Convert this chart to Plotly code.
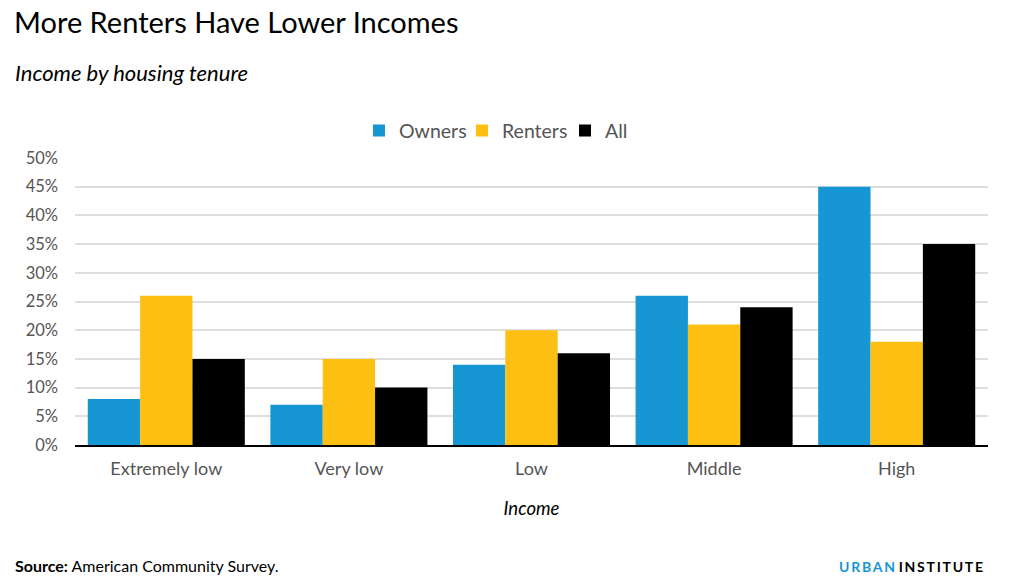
import plotly.graph_objects as go

categories = ["Extremely low", "Very low", "Low", "Middle", "High"]
owners = [8, 7, 14, 26, 45]
renters = [26, 15, 20, 21, 18]
all_vals = [15, 10, 16, 24, 35]
tick_vals = [0, 5, 10, 15, 20, 25, 30, 35, 40, 45, 50]
tick_text = [f"{v}%" for v in tick_vals]

FONT = "Lato"
W, H = 1003, 576
L, R, T, B = 67, 23, 150, 139
PW, PH = W - L - R, H - T - B


def px(fx):
    return (fx - L) / PW


def py(fy):
    return 1 - (fy - T) / PH


fig = go.Figure()
for name, vals, color in [("Owners", owners, "#1696d2"),
                          ("Renters", renters, "#fdbf11"),
                          ("All", all_vals, "#000000")]:
    fig.add_trace(go.Bar(name=name, x=categories, y=vals,
                         marker=dict(color=color, line=dict(width=0))))

fig.update_layout(
    width=W, height=H,
    barmode="group", bargap=0.14, bargroupgap=0,
    plot_bgcolor="white", paper_bgcolor="white",
    margin=dict(l=L, r=R, t=T, b=B),
    font=dict(family=FONT, color="#555555", size=16),
    showlegend=True,
    legend=dict(orientation="h", x=px(351), xanchor="left", y=1.027, yanchor="bottom",
                font=dict(size=19.5, color="#555555"), itemwidth=30, traceorder="normal",
                entrywidth=58, entrywidthmode="pixels"),
    xaxis=dict(showgrid=False, showline=True, linecolor="#000000", linewidth=2,
               ticks="", tickfont=dict(size=18, color="#555555"), ticklabelstandoff=6,
               title=dict(text="<i>Income</i>", font=dict(size=18.5, color="#000000"), standoff=24)),
    yaxis=dict(range=[0, 50], tickvals=tick_vals, ticktext=tick_text,
               showgrid=True, gridcolor="#dedede", gridwidth=2, zeroline=False,
               tickfont=dict(size=16.5, color="#555555"), ticklabelstandoff=16),
)

fig.add_annotation(text="More Renters Have Lower Incomes", xref="paper", yref="paper",
                   x=px(4), y=py(14), xanchor="left", yanchor="middle",
                   showarrow=False, font=dict(size=29, color="#000000", family=FONT))
fig.add_annotation(text="<i>Income by housing tenure</i>", xref="paper", yref="paper",
                   x=px(5), y=py(64), xanchor="left", yanchor="middle",
                   showarrow=False, font=dict(size=22, color="#000000", family=FONT))
fig.add_annotation(text="<b>Source:</b> American Community Survey.", xref="paper", yref="paper",
                   x=px(5), y=py(557), xanchor="left", yanchor="middle",
                   showarrow=False, font=dict(size=16, color="#000000", family=FONT))
sp = "\u2009"
urban = sp.join("URBAN")
inst = sp.join("INSTITUTE")
fig.add_annotation(text=f"<b><span style='color:#1696d2'>{urban}</span>{sp}{sp}{inst}</b>",
                   xref="paper", yref="paper",
                   x=px(977), y=py(558), xanchor="right", yanchor="middle",
                   showarrow=False, font=dict(size=14, color="#000000", family=FONT))

fig.write_html("out.html")
